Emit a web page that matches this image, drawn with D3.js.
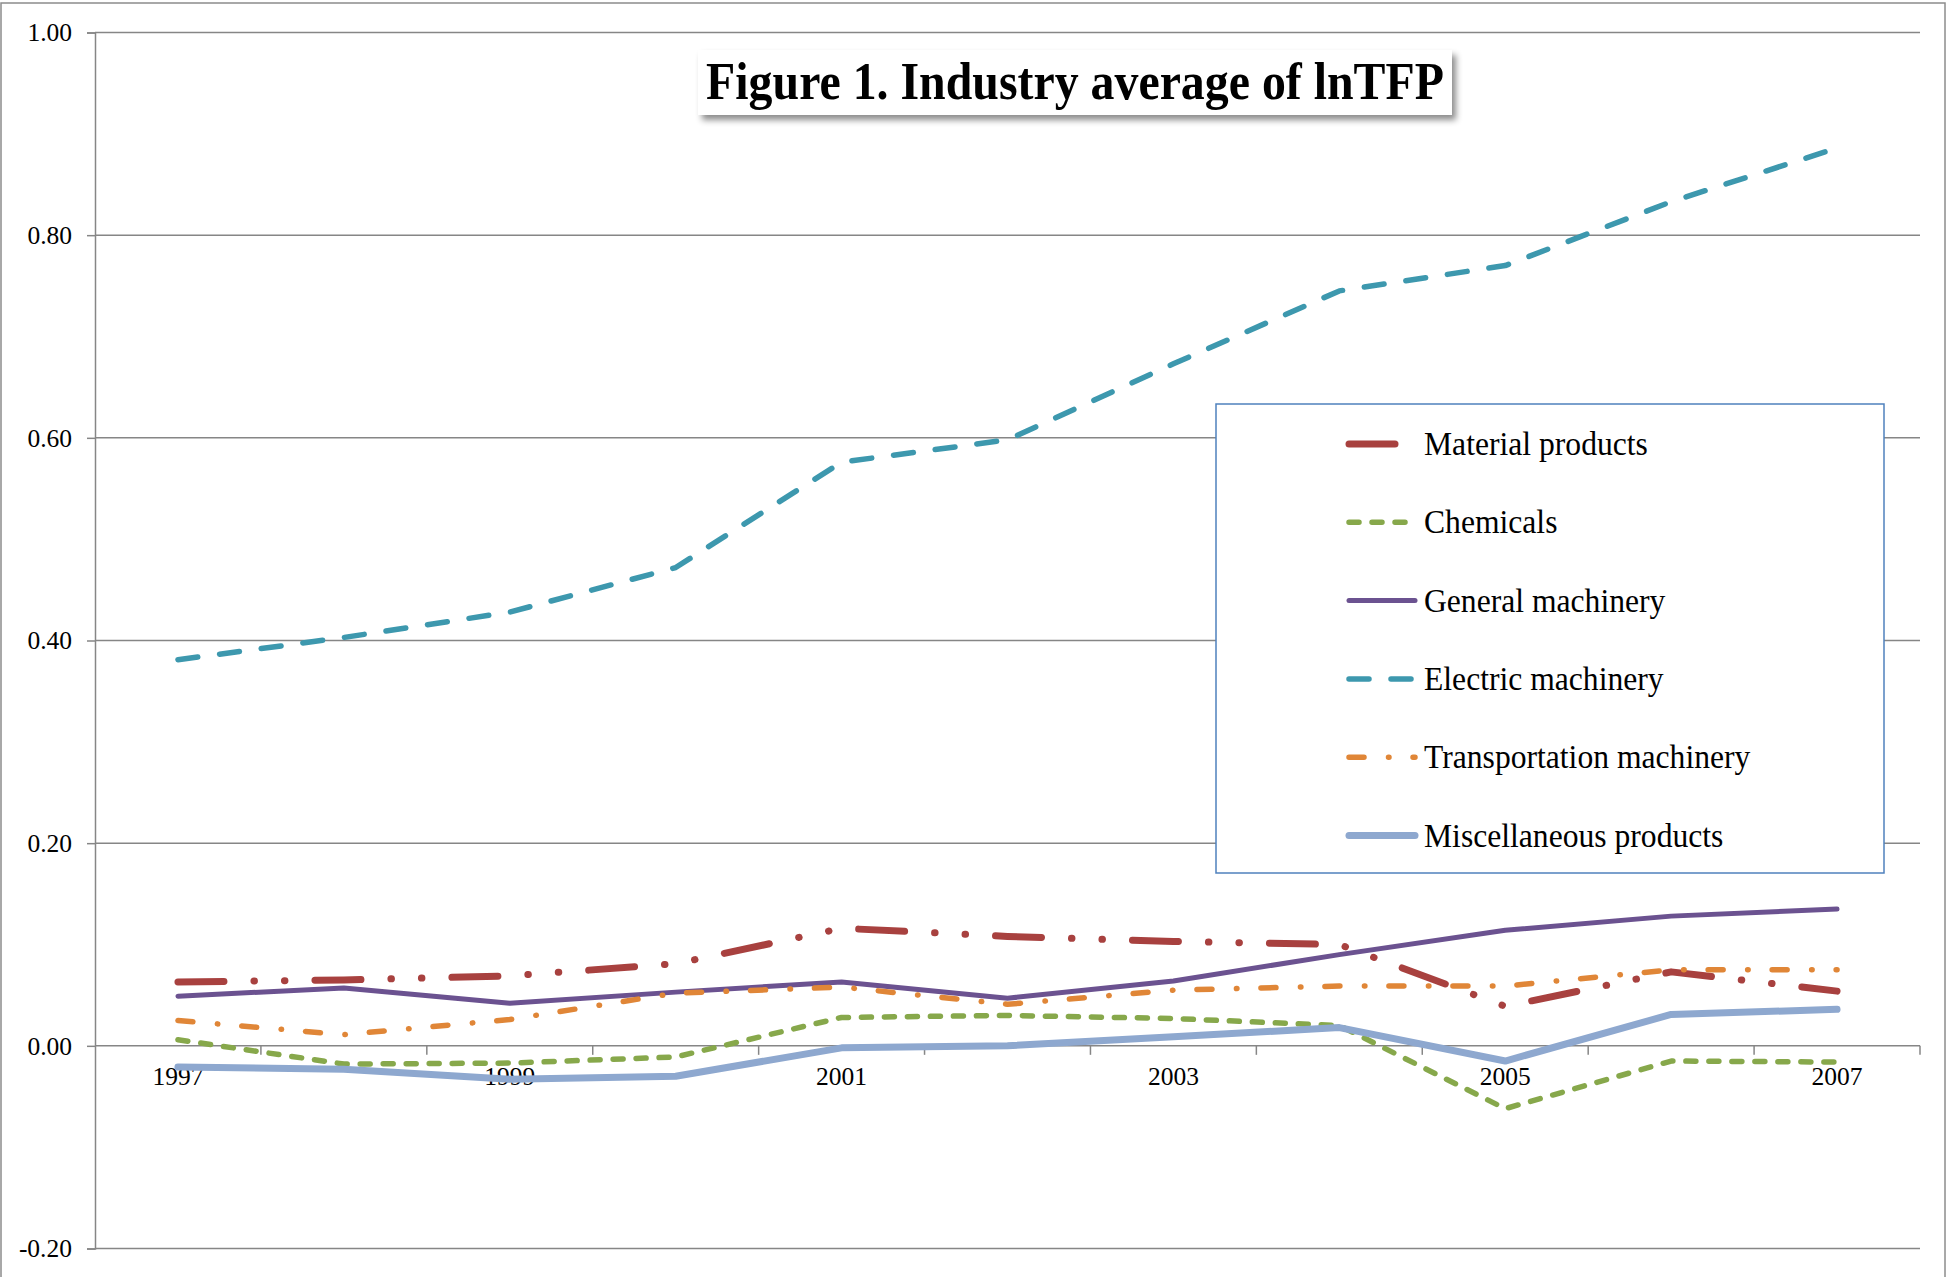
<!DOCTYPE html>
<html>
<head>
<meta charset="utf-8">
<script src="https://cdn.jsdelivr.net/npm/d3@7"></script>
<style>
  html, body { margin: 0; padding: 0; background: #fff; }
  svg text { font-family: "Liberation Serif", "Times New Roman", serif; fill: #000; }
</style>
</head>
<body>
<div id="canvas"></div>
<script>
// data
const years = ["1997","1998","1999","2000","2001","2002","2003","2004","2005","2006","2007"];
const labelYears = ["1997","1999","2001","2003","2005","2007"];
const yTicks = [-0.2, 0, 0.2, 0.4, 0.6, 0.8, 1.0];

const materialProducts = [0.063, 0.065, 0.069, 0.081, 0.116, 0.108, 0.103, 0.100, 0.039, 0.073, 0.054];
const chemicals        = [0.006, -0.018, -0.017, -0.011, 0.028, 0.030, 0.027, 0.020, -0.062, -0.015, -0.016];
const generalMachinery = [0.049, 0.057, 0.042, 0.053, 0.063, 0.047, 0.064, 0.090, 0.114, 0.128, 0.135];
const electricMachinery = [0.381, 0.403, 0.428, 0.472, 0.576, 0.598, 0.673, 0.745, 0.770, 0.833, 0.886];
const transportMachinery = [0.025, 0.011, 0.026, 0.052, 0.058, 0.041, 0.055, 0.059, 0.059, 0.075, 0.075];
const miscProducts     = [-0.021, -0.023, -0.033, -0.030, -0.002, 0.000, 0.009, 0.018, -0.015, 0.031, 0.036];

const seriesNames = ["Material products", "Chemicals", "General machinery",
  "Electric machinery", "Transportation machinery", "Miscellaneous products"];
const seriesValues = [materialProducts, chemicals, generalMachinery,
  electricMachinery, transportMachinery, miscProducts];

// looks
const colors = ["#a8413f", "#87a84b", "#6b5290", "#3d98ae", "#e08637", "#8ea8cf"];
const dashes = ["46 30 0.5 30 0.5 30", "10 13", null, "20 22", "15 24.5 0.5 24", null];
const widths = [7, 5.5, 5, 5.5, 5.5, 7];

const width = 1955;
const height = 1277;
const margin = { top: 32.5, left: 95, bottom: 28.5, right: 35 };
const iwidth = width - margin.left - margin.right;
const iheight = height - margin.top - margin.bottom;

const svg = d3.select("#canvas").append("svg")
  .attr("width", width)
  .attr("height", height);

const defs = svg.append("defs");
const shadow = defs.append("filter").attr("id", "shadow")
  .attr("x", "-5%").attr("y", "-20%").attr("width", "112%").attr("height", "160%");
shadow.append("feDropShadow")
  .attr("dx", 4).attr("dy", 5).attr("stdDeviation", 3)
  .attr("flood-color", "#000").attr("flood-opacity", 0.45);

// outer chart border
svg.append("rect")
  .attr("x", 1).attr("y", 3)
  .attr("width", 1944).attr("height", 1290)
  .attr("fill", "none")
  .attr("stroke", "#8c8c8c")
  .attr("stroke-width", 1.5);

const x = d3.scaleBand().domain(years).range([0, iwidth]).padding(0);
const y = d3.scaleLinear().domain([-0.2, 1.0]).range([iheight, 0]);

const g = svg.append("g").attr("transform", `translate(${margin.left},${margin.top})`);

// y axis with labels
const yAxis = g.append("g")
  .classed("y--axis", true)
  .call(d3.axisLeft(y).tickValues(yTicks).tickSize(8).tickPadding(15)
    .tickFormat(d => d.toFixed(2)));
yAxis.attr("font-family", null).attr("font-size", null);
yAxis.select(".domain").attr("stroke", "#868686").attr("stroke-width", 1.5);
yAxis.selectAll(".tick line").attr("stroke", "#868686").attr("stroke-width", 1.5);
yAxis.selectAll(".tick text")
  .style("font-family", "'Liberation Serif', serif")
  .style("font-size", "25.5px")
  .attr("fill", "#000");

// horizontal gridlines
g.append("g")
  .classed("grid", true)
  .selectAll("line")
  .data(yTicks.filter(d => d !== 0))
  .join("line")
  .attr("x1", 0).attr("x2", iwidth)
  .attr("y1", d => y(d)).attr("y2", d => y(d))
  .attr("stroke", "#868686")
  .attr("stroke-width", 1.5);

// x axis on the zero line, ticks between categories
const xAxis = g.append("g")
  .classed("x--axis", true)
  .attr("transform", `translate(0, ${y(0)})`);
xAxis.append("line")
  .attr("x1", 0).attr("x2", iwidth)
  .attr("stroke", "#868686").attr("stroke-width", 1.5);
xAxis.selectAll("line.tk")
  .data(years)
  .join("line")
  .attr("class", "tk")
  .attr("x1", d => x(d) + x.bandwidth()).attr("x2", d => x(d) + x.bandwidth())
  .attr("y1", 0).attr("y2", 9)
  .attr("stroke", "#868686").attr("stroke-width", 1.5);
xAxis.selectAll("text")
  .data(labelYears)
  .join("text")
  .attr("x", d => x(d) + x.bandwidth() / 2)
  .attr("y", 39)
  .attr("text-anchor", "middle")
  .style("font-size", "25.5px")
  .text(d => d);

// series lines
const line = d3.line()
  .x((d, i) => x(years[i]) + x.bandwidth() / 2)
  .y(d => y(d));

g.append("g").classed("lines", true)
  .selectAll("path")
  .data(seriesValues)
  .join("path")
  .attr("d", d => line(d))
  .attr("fill", "none")
  .attr("stroke", (d, i) => colors[i])
  .attr("stroke-width", (d, i) => widths[i])
  .attr("stroke-dasharray", (d, i) => dashes[i])
  .attr("stroke-linecap", "round")
  .attr("stroke-linejoin", "round");

// legend
const legend = svg.append("g").attr("transform", "translate(1216,404)");
legend.append("rect")
  .attr("width", 668).attr("height", 469)
  .attr("fill", "#fff")
  .attr("stroke", "#4f81bd")
  .attr("stroke-width", 1.5);

const items = legend.selectAll("g.item")
  .data(seriesNames)
  .join("g")
  .attr("class", "item")
  .attr("transform", (d, i) => `translate(0, ${40 + i * 78.3})`);
items.append("line")
  .attr("x1", 133).attr("x2", 199)
  .attr("stroke", (d, i) => colors[i])
  .attr("stroke-width", (d, i) => widths[i])
  .attr("stroke-dasharray", (d, i) => dashes[i])
  .attr("stroke-linecap", "round");
items.append("text")
  .attr("transform", "translate(208, 11) scale(0.93, 1)")
  .style("font-size", "34px")
  .text(d => d);

// title with shadowed box
const title = svg.append("g").attr("transform", "translate(698,50)");
title.append("rect")
  .attr("width", 754).attr("height", 65)
  .attr("fill", "#fff")
  .attr("filter", "url(#shadow)");
title.append("text")
  .attr("transform", "translate(377, 49) scale(0.92, 1)")
  .attr("text-anchor", "middle")
  .style("font-size", "52px")
  .style("font-weight", "bold")
  .text("Figure 1. Industry average of lnTFP");
</script>
</body>
</html>
